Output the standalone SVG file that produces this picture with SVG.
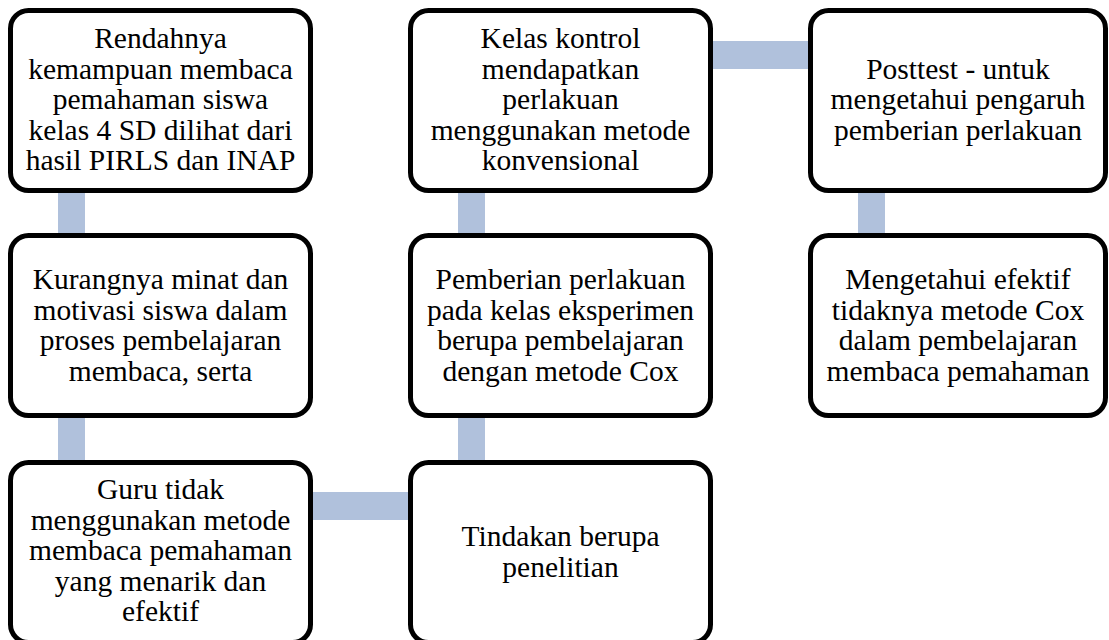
<svg xmlns="http://www.w3.org/2000/svg" width="1109" height="640" viewBox="0 0 1109 640">
<style>
.box{fill:#fff;stroke:#000;stroke-width:5}
.con{fill:#B0C1DC}
.t text{font-size:29.5px;fill:#000;text-anchor:middle}
</style>
<rect width="1109" height="640" fill="#fff"/>
<g id="connectors">
<rect class="con" x="58" y="190" width="27" height="46"/>
<rect class="con" x="58" y="415" width="27" height="48"/>
<rect class="con" x="310" y="492" width="101" height="28"/>
<rect class="con" x="458" y="415" width="27" height="48"/>
<rect class="con" x="458" y="190" width="27" height="46"/>
<rect class="con" x="710" y="41" width="101" height="28"/>
<rect class="con" x="858" y="190" width="27" height="46"/>
</g>
<g class="t" font-family="'Liberation Serif', 'Times New Roman', 'DejaVu Serif', serif">
<g id="n1">
<rect class="box" x="10.5" y="10.5" width="300" height="180" rx="18"/>
<text x="160.5" y="48">Rendahnya</text>
<text x="160.5" y="78.5">kemampuan membaca</text>
<text x="160.5" y="109">pemahaman siswa</text>
<text x="160.5" y="139.5">kelas 4 SD dilihat dari</text>
<text x="160.5" y="170">hasil PIRLS dan INAP</text>
</g>
<g id="n2">
<rect class="box" x="10.5" y="235.5" width="300" height="180" rx="18"/>
<text x="160.5" y="289">Kurangnya minat dan</text>
<text x="160.5" y="319.5">motivasi siswa dalam</text>
<text x="160.5" y="350">proses pembelajaran</text>
<text x="160.5" y="380.5">membaca, serta</text>
</g>
<g id="n3">
<rect class="box" x="10.5" y="462.5" width="300" height="180" rx="18"/>
<text x="160.5" y="499">Guru tidak</text>
<text x="160.5" y="529.5">menggunakan metode</text>
<text x="160.5" y="560">membaca pemahaman</text>
<text x="160.5" y="590.5">yang menarik dan</text>
<text x="160.5" y="621">efektif</text>
</g>
<g id="n4">
<rect class="box" x="410.5" y="462.5" width="300" height="180" rx="18"/>
<text x="560.5" y="546">Tindakan berupa</text>
<text x="560.5" y="576.5">penelitian</text>
</g>
<g id="n5">
<rect class="box" x="410.5" y="235.5" width="300" height="180" rx="18"/>
<text x="560.5" y="289">Pemberian perlakuan</text>
<text x="560.5" y="319.5">pada kelas eksperimen</text>
<text x="560.5" y="350">berupa pembelajaran</text>
<text x="560.5" y="380.5">dengan metode Cox</text>
</g>
<g id="n6">
<rect class="box" x="410.5" y="10.5" width="300" height="180" rx="18"/>
<text x="560.5" y="48">Kelas kontrol</text>
<text x="560.5" y="78.5">mendapatkan</text>
<text x="560.5" y="109">perlakuan</text>
<text x="560.5" y="139.5">menggunakan metode</text>
<text x="560.5" y="170">konvensional</text>
</g>
<g id="n7">
<rect class="box" x="810.5" y="10.5" width="295" height="180" rx="18"/>
<text x="958" y="78.5">Posttest - untuk</text>
<text x="958" y="109">mengetahui pengaruh</text>
<text x="958" y="139.5">pemberian perlakuan</text>
</g>
<g id="n8">
<rect class="box" x="810.5" y="235.5" width="295" height="180" rx="18"/>
<text x="958" y="289">Mengetahui efektif</text>
<text x="958" y="319.5">tidaknya metode Cox</text>
<text x="958" y="350">dalam pembelajaran</text>
<text x="958" y="380.5">membaca pemahaman</text>
</g>
</g>
</svg>
